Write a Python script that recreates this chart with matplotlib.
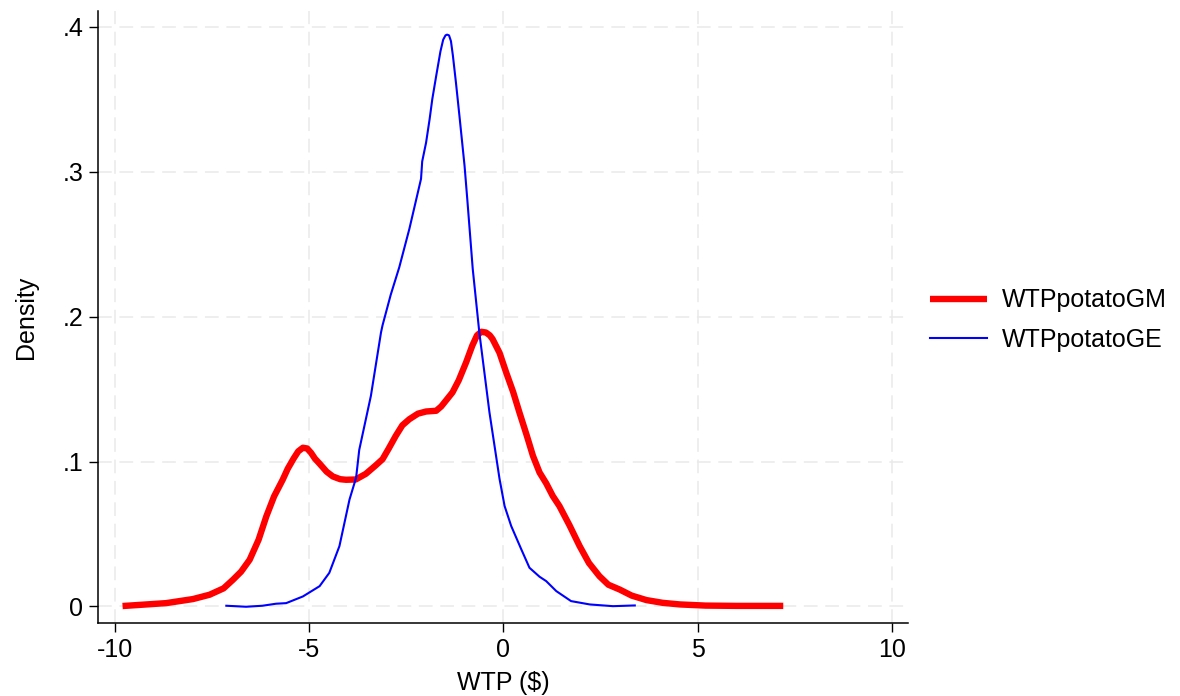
import matplotlib
matplotlib.use("Agg")
import matplotlib.pyplot as plt

# ─── Data ────────────────────────────────────────────────────────────────────
gm_x = [-9.80, -8.68, -7.99, -7.56, -7.20, -6.96, -6.75, -6.53, -6.30, -6.10,
        -5.90, -5.68, -5.55, -5.40, -5.28, -5.16, -5.05, -4.95, -4.85, -4.73,
        -4.55, -4.39, -4.20, -4.05, -3.80, -3.54, -3.30, -3.11, -2.95, -2.77,
        -2.60, -2.42, -2.20, -1.99, -1.73, -1.60, -1.45, -1.31, -1.15, -0.96,
        -0.80, -0.68, -0.57, -0.45, -0.35, -0.28, -0.10, 0.07, 0.25, 0.41,
        0.60, 0.76, 0.93, 1.10, 1.27, 1.44, 1.70, 1.96, 2.20, 2.47,
        2.70, 2.99, 3.30, 3.68, 4.10, 4.54, 5.20, 6.00, 7.20]
gm_y = [0.0003, 0.0023, 0.0051, 0.0081, 0.0125, 0.0184, 0.0240, 0.0322, 0.0460, 0.0622,
        0.0760, 0.0874, 0.0950, 0.1020, 0.1070, 0.1095, 0.1090, 0.1060, 0.1020, 0.0985,
        0.0930, 0.0897, 0.0878, 0.0874, 0.0876, 0.0915, 0.0970, 0.1016, 0.1090, 0.1177,
        0.1250, 0.1292, 0.1330, 0.1345, 0.1350, 0.1380, 0.1430, 0.1477, 0.1560, 0.1684,
        0.1800, 0.1870, 0.1895, 0.1890, 0.1870, 0.1845, 0.1750, 0.1615, 0.1480, 0.1340,
        0.1180, 0.1039, 0.0924, 0.0850, 0.0762, 0.0693, 0.0560, 0.0417, 0.0300, 0.0209,
        0.0150, 0.0117, 0.0075, 0.0044, 0.0025, 0.0014, 0.0006, 0.0004, 0.0004]

ge_x = [-7.13, -6.62, -6.20, -5.85, -5.59, -5.16, -4.73, -4.48, -4.22, -3.96,
        -3.79, -3.71, -3.41, -3.15, -3.11, -2.90, -2.68, -2.42, -2.12, -2.09,
        -1.99, -1.90, -1.83, -1.73, -1.62, -1.55, -1.49, -1.45, -1.40, -1.35,
        -1.30, -1.22, -1.13, -1.00, -0.93, -0.79, -0.62, -0.36, -0.10, 0.03,
        0.20, 0.46, 0.67, 0.93, 1.10, 1.36, 1.74, 2.22, 2.82, 3.38]
ge_y = [0.0005, -0.0002, 0.0005, 0.0019, 0.0023, 0.0069, 0.0140, 0.0232, 0.0416, 0.0738,
        0.0889, 0.1080, 0.1453, 0.1890, 0.1940, 0.2150, 0.2340, 0.2605, 0.2950, 0.3070,
        0.3200, 0.3360, 0.3500, 0.3660, 0.3830, 0.3910, 0.3940, 0.3945, 0.3940, 0.3900,
        0.3800, 0.3610, 0.3380, 0.3040, 0.2810, 0.2330, 0.1890, 0.1340, 0.0880, 0.0693,
        0.0555, 0.0394, 0.0267, 0.0205, 0.0175, 0.0106, 0.0037, 0.0014, 0.0002, 0.0007]

x_ticks = [-10, -5, 0, 5, 10]
x_ticklabels = ["-10", "-5", "0", "5", "10"]
y_ticks = [0, 0.1, 0.2, 0.3, 0.4]
y_ticklabels = ["0", ".1", ".2", ".3", ".4"]

plt.rcParams["font.family"] = ["Liberation Sans", "DejaVu Sans"]

fig = plt.figure(figsize=(11.8, 6.96), dpi=100)
ax = fig.add_axes([0.0831, 0.1049, 0.6864, 0.8793])

ax.plot(gm_x, gm_y, color="#ff0000", linewidth=4.6, label="WTPpotatoGM",
        solid_capstyle="butt", solid_joinstyle="round")
ax.plot(ge_x, ge_y, color="#0000ff", linewidth=1.5, label="WTPpotatoGE",
        solid_joinstyle="round")

ax.set_xlim(-10.43, 10.41)
ax.set_ylim(-0.0114, 0.4108)
ax.set_xticks(x_ticks)
ax.set_xticklabels(x_ticklabels)
ax.set_yticks(y_ticks)
ax.set_yticklabels(y_ticklabels)

ax.grid(True, color="#eaeaea", linewidth=1.1, linestyle=(0, (9, 5)))
ax.set_axisbelow(True)
for side in ["top", "right"]:
    ax.spines[side].set_visible(False)
for side in ["left", "bottom"]:
    ax.spines[side].set_linewidth(1.1)
ax.tick_params(axis="both", labelsize=18, length=6.5, width=1.0, pad=4)

ax.set_xlabel("WTP ($)", fontsize=18, labelpad=7)
ax.set_ylabel("Density", fontsize=18, labelpad=18)

fig.legend(loc="center left", bbox_to_anchor=(0.788, 0.540), frameon=False,
           borderpad=0, borderaxespad=0,
           fontsize=18, handlelength=2.3, handletextpad=0.6, labelspacing=0.62)

fig.savefig("out.png", dpi=100, facecolor="white")
